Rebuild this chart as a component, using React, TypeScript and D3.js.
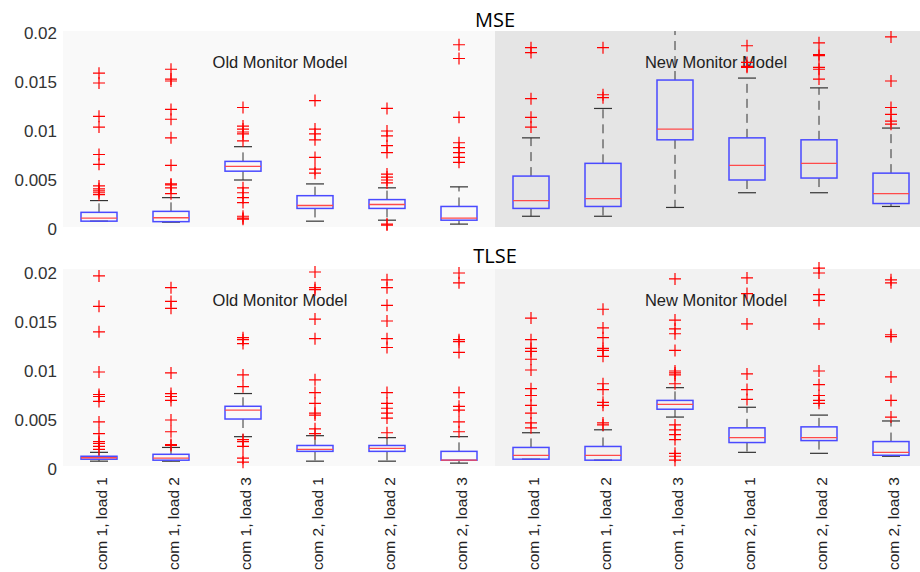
import React, { useEffect, useRef } from "react";
import * as d3 from "d3";

const categories = [
  "com 1, load 1",
  "com 1, load 2",
  "com 1, load 3",
  "com 2, load 1",
  "com 2, load 2",
  "com 2, load 3",
  "com 1, load 1 ",
  "com 1, load 2 ",
  "com 1, load 3 ",
  "com 2, load 1 ",
  "com 2, load 2 ",
  "com 2, load 3 ",
];

const yTicks = [0, 0.005, 0.01, 0.015, 0.02];

// MSE box stats
const mseLower = [0.0008, 0.0007, 0.005, 0.0008, 0.0009, 0.0005, 0.0013, 0.0013, 0.0022, 0.0037, 0.0037, 0.0023];
const mseQ1 = [0.0008, 0.00075, 0.0059, 0.0021, 0.0021, 0.0009, 0.0021, 0.0023, 0.0091, 0.005, 0.0052, 0.0026];
const mseMedian = [0.0011, 0.00115, 0.0064, 0.0024, 0.0025, 0.0011, 0.0029, 0.0031, 0.0102, 0.0065, 0.0067, 0.0036];
const mseQ3 = [0.0017, 0.0018, 0.0069, 0.0034, 0.003, 0.0023, 0.0054, 0.0067, 0.0152, 0.0093, 0.0091, 0.0057];
const mseUpper = [0.0029, 0.0032, 0.0084, 0.0046, 0.0042, 0.0043, 0.0093, 0.0123, 0.0245, 0.0154, 0.0144, 0.0103];
const mseOutliers = [
  [0.0159, 0.0149, 0.0115, 0.0104, 0.0076, 0.0066, 0.0044, 0.0041, 0.0039, 0.0037, 0.0035],
  [0.0163, 0.0153, 0.0151, 0.0122, 0.0112, 0.0093, 0.0065, 0.0046, 0.0045, 0.0042, 0.0036],
  [0.0124, 0.0105, 0.0102, 0.0099, 0.0097, 0.009, 0.0042, 0.0037, 0.0032, 0.0027, 0.0013, 0.0011, 0.001],
  [0.0131, 0.0102, 0.0097, 0.0091, 0.0073, 0.0061, 0.0057],
  [0.0123, 0.01, 0.0095, 0.0085, 0.0078, 0.0056, 0.0053, 0.005, 0.0047, 0.0005, 0.0004],
  [0.0188, 0.0174, 0.0114, 0.0088, 0.0083, 0.0078, 0.0073, 0.0068],
  [0.0185, 0.018, 0.0133, 0.0114, 0.0104],
  [0.0185, 0.0137, 0.0134],
  [],
  [0.0187, 0.017, 0.0166, 0.0165],
  [0.019, 0.0178, 0.0177, 0.0165, 0.0163, 0.0153],
  [0.0196, 0.0151, 0.0124, 0.0117, 0.011, 0.0107],
];

// TLSE box stats
const tlseLower = [0.0008, 0.0008, 0.0033, 0.0008, 0.0008, 0.0006, 0.001, 0.0009, 0.0053, 0.0017, 0.0016, 0.0013];
const tlseQ1 = [0.001, 0.0009, 0.0051, 0.0018, 0.0018, 0.0009, 0.001, 0.0009, 0.0061, 0.0027, 0.0029, 0.0014];
const tlseMedian = [0.00115, 0.0011, 0.006, 0.002, 0.0021, 0.0009, 0.0014, 0.0014, 0.0066, 0.0032, 0.0032, 0.0017];
const tlseQ3 = [0.0013, 0.0015, 0.0064, 0.0024, 0.0024, 0.0018, 0.0022, 0.0023, 0.007, 0.0042, 0.0043, 0.0028];
const tlseUpper = [0.0017, 0.0022, 0.0077, 0.0034, 0.0032, 0.0033, 0.0037, 0.004, 0.0083, 0.0063, 0.0055, 0.0049];
const tlseOutliers = [
  [0.0197, 0.0166, 0.014, 0.0099, 0.0076, 0.0074, 0.0069, 0.0048, 0.0036, 0.0028, 0.0026, 0.0023, 0.002],
  [0.0185, 0.0171, 0.0164, 0.0098, 0.0077, 0.0074, 0.007, 0.005, 0.0038, 0.0025, 0.0024],
  [0.0134, 0.0132, 0.0128, 0.0096, 0.0084, 0.003, 0.0028, 0.0023, 0.0011, 0.0007],
  [0.0201, 0.0185, 0.0183, 0.0153, 0.0133, 0.0091, 0.0078, 0.0067, 0.0057, 0.0055, 0.0041, 0.0036],
  [0.0193, 0.0185, 0.0167, 0.0151, 0.0133, 0.0124, 0.0078, 0.0067, 0.0062, 0.0057, 0.0052, 0.0037],
  [0.02, 0.019, 0.0132, 0.013, 0.0119, 0.0078, 0.0064, 0.006, 0.0048, 0.0038],
  [0.0154, 0.0132, 0.0123, 0.012, 0.0112, 0.0101, 0.0082, 0.0075, 0.0065, 0.0057, 0.0047, 0.0042],
  [0.0163, 0.0144, 0.0134, 0.0123, 0.0121, 0.0115, 0.0087, 0.0081, 0.0068, 0.0065, 0.0047, 0.0045],
  [0.0194, 0.0152, 0.0143, 0.0138, 0.0121, 0.01, 0.0098, 0.0096, 0.0087, 0.0045, 0.004, 0.0035, 0.003, 0.0016, 0.0013, 0.0009],
  [0.0195, 0.0179, 0.0148, 0.0097, 0.0081, 0.0071],
  [0.0205, 0.02, 0.0178, 0.0172, 0.0148, 0.01, 0.0086, 0.0075, 0.007, 0.0067],
  [0.0193, 0.019, 0.0137, 0.0135, 0.0094, 0.007, 0.0053],
];

const W = 920;
const H = 572;
const plotLeft = 63;
const plotRight = 927;
const splitX = 495;

const panels = [
  {
    title: "MSE",
    lower: mseLower, q1: mseQ1, median: mseMedian, q3: mseQ3, upper: mseUpper, outliers: mseOutliers,
    bgTop: 31, bgBottom: 227, zeroY: 229, topY: 33, titleY: 27,
    oldFill: "#f9f9f9", newFill: "#e5e5e5",
  },
  {
    title: "TLSE",
    lower: tlseLower, q1: tlseQ1, median: tlseMedian, q3: tlseQ3, upper: tlseUpper, outliers: tlseOutliers,
    bgTop: 269, bgBottom: 466, zeroY: 469, topY: 273, titleY: 263,
    oldFill: "#f9f9f9", newFill: "#f2f2f2",
  },
];

function App() {
  const svgRef = useRef<SVGSVGElement>(null);

  useEffect(() => {
    const svg = d3.select(svgRef.current);
    svg.selectAll("*").remove();

    const xScale = d3
      .scaleBand<string>()
      .domain(categories)
      .range([plotLeft, plotRight])
      .paddingInner(0.5)
      .paddingOuter(0.25);
    const bw = xScale.bandwidth();
    const capW = bw / 2;
    const cx = (i: number) => (xScale(categories[i]) as number) + bw / 2;

    panels.forEach((p, pi) => {
      const yScale = d3.scaleLinear().domain([0, 0.02]).range([p.zeroY, p.topY]);
      const g = svg.append("g");

      // background regions
      g.append("rect")
        .attr("x", plotLeft).attr("y", p.bgTop)
        .attr("width", splitX - plotLeft).attr("height", p.bgBottom - p.bgTop)
        .attr("fill", p.oldFill);
      g.append("rect")
        .attr("x", splitX).attr("y", p.bgTop)
        .attr("width", W - splitX).attr("height", p.bgBottom - p.bgTop)
        .attr("fill", p.newFill);

      const clipId = `clip-${pi}`;
      svg.append("clipPath").attr("id", clipId)
        .append("rect")
        .attr("x", plotLeft).attr("y", p.bgTop)
        .attr("width", W - plotLeft).attr("height", p.bgBottom - p.bgTop);

      // y tick labels
      g.selectAll(".ytick")
        .data(yTicks)
        .join("text")
        .attr("x", 57)
        .attr("y", (d) => yScale(d))
        .attr("text-anchor", "end")
        .attr("dominant-baseline", "central")
        .attr("font-family", "Liberation Sans, Arial, sans-serif")
        .attr("font-size", 17)
        .attr("fill", "#333")
        .text((d) => String(d));

      // region labels
      g.append("text")
        .attr("x", 280).attr("y", p.bgTop + 37)
        .attr("text-anchor", "middle")
        .attr("font-family", "Liberation Sans, Arial, sans-serif")
        .attr("font-size", 16.5)
        .attr("fill", "#222")
        .text("Old Monitor Model");
      g.append("text")
        .attr("x", 716).attr("y", p.bgTop + 37)
        .attr("text-anchor", "middle")
        .attr("font-family", "Liberation Sans, Arial, sans-serif")
        .attr("font-size", 16.5)
        .attr("fill", "#222")
        .text("New Monitor Model");

      // title
      g.append("text")
        .attr("x", 495).attr("y", p.titleY)
        .attr("text-anchor", "middle")
        .attr("font-family", "Open Sans, sans-serif")
        .attr("font-size", 20)
        .attr("fill", "#000")
        .text(p.title);

      const idx = d3.range(categories.length);

      // whiskers (dashed, starting from box edge)
      const wg = g.append("g").attr("clip-path", `url(#${clipId})`);
      wg.selectAll(".wu")
        .data(idx)
        .join("line")
        .attr("x1", cx).attr("x2", cx)
        .attr("y1", (i) => yScale(p.q3[i]))
        .attr("y2", (i) => yScale(p.upper[i]))
        .attr("stroke", "#333").attr("stroke-width", 1)
        .attr("stroke-dasharray", "9,6");
      wg.selectAll(".wl")
        .data(idx)
        .join("line")
        .attr("x1", cx).attr("x2", cx)
        .attr("y1", (i) => yScale(p.q1[i]))
        .attr("y2", (i) => yScale(p.lower[i]))
        .attr("stroke", "#333").attr("stroke-width", 1)
        .attr("stroke-dasharray", "9,6");
      wg.selectAll(".cu")
        .data(idx)
        .join("line")
        .attr("x1", (i) => cx(i) - capW / 2).attr("x2", (i) => cx(i) + capW / 2)
        .attr("y1", (i) => yScale(p.upper[i])).attr("y2", (i) => yScale(p.upper[i]))
        .attr("stroke", "#333").attr("stroke-width", 1.2);
      wg.selectAll(".cl")
        .data(idx)
        .join("line")
        .attr("x1", (i) => cx(i) - capW / 2).attr("x2", (i) => cx(i) + capW / 2)
        .attr("y1", (i) => yScale(p.lower[i])).attr("y2", (i) => yScale(p.lower[i]))
        .attr("stroke", "#333").attr("stroke-width", 1.2);

      // boxes
      g.selectAll(".box")
        .data(idx)
        .join("rect")
        .attr("x", (i) => cx(i) - bw / 2)
        .attr("y", (i) => yScale(p.q3[i]))
        .attr("width", bw)
        .attr("height", (i) => Math.max(1, yScale(p.q1[i]) - yScale(p.q3[i])))
        .attr("fill", "none")
        .attr("stroke", "#4a4aff")
        .attr("stroke-width", 1.5);

      // medians
      g.selectAll(".med")
        .data(idx)
        .join("line")
        .attr("x1", (i) => cx(i) - bw / 2).attr("x2", (i) => cx(i) + bw / 2)
        .attr("y1", (i) => yScale(p.median[i])).attr("y2", (i) => yScale(p.median[i]))
        .attr("stroke", "#ff4a4a").attr("stroke-width", 1.3);

      // outliers
      const pts = idx.flatMap((i) => p.outliers[i].map((v) => ({ i, v })));
      const r = 6;
      g.selectAll(".out")
        .data(pts)
        .join("path")
        .attr("d", (d) => {
          const x = cx(d.i);
          const y = yScale(d.v);
          return `M${x - r},${y}H${x + r}M${x},${y - r}V${y + r}`;
        })
        .attr("stroke", "#ff0000")
        .attr("stroke-width", 1.2)
        .attr("fill", "none");
    });

    // x-axis labels (rotated)
    svg.selectAll(".xlab")
      .data(categories)
      .join("text")
      .attr("transform", (d) => `translate(${(xScale(d) as number) + bw / 2 + 2},${477}) rotate(-90)`)
      .attr("text-anchor", "end")
      .attr("dominant-baseline", "central")
      .attr("font-family", "Liberation Sans, Arial, sans-serif")
      .attr("font-size", 15.5)
      .attr("fill", "#222")
      .text((d) => d.trim());
  }, []);

  return (
    <svg
      ref={svgRef}
      width={W}
      height={H}
      style={{ position: "absolute", left: 0, top: 0, background: "#fff" }}
    />
  );
}

export default App;
